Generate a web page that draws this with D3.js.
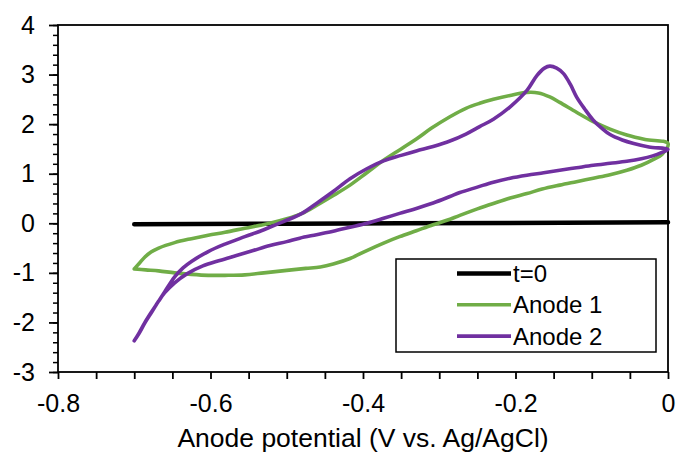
<!DOCTYPE html>
<html>
<head>
<meta charset="utf-8">
<script src="https://cdn.jsdelivr.net/npm/d3@7"></script>
<style>
  body { margin: 0; background: #fff; }
  text { font-family: "Liberation Sans", Arial, sans-serif; fill: #000; }
</style>
</head>
<body>
<div id="chart"></div>
<script>
// potential (V) , current pairs
const baseline = [[-0.70, -0.02], [-0.35, 0.0], [0.0, 0.02]];

const anode1Fwd = [
  [-0.700, -0.92], [-0.693, -0.80], [-0.686, -0.68], [-0.678, -0.58], [-0.668, -0.50],
  [-0.647, -0.39], [-0.625, -0.31], [-0.603, -0.24], [-0.581, -0.18], [-0.555, -0.10],
  [-0.525, -0.01], [-0.500, 0.09], [-0.480, 0.20], [-0.461, 0.36], [-0.440, 0.55],
  [-0.417, 0.77], [-0.395, 1.02], [-0.373, 1.27], [-0.350, 1.50], [-0.330, 1.70],
  [-0.310, 1.92], [-0.286, 2.15], [-0.265, 2.32], [-0.247, 2.42], [-0.229, 2.50],
  [-0.207, 2.58], [-0.185, 2.64], [-0.170, 2.63], [-0.155, 2.55], [-0.142, 2.44],
  [-0.120, 2.24], [-0.098, 2.05], [-0.076, 1.90], [-0.054, 1.78], [-0.030, 1.69],
  [0.000, 1.61]
];
const anode1Rev = [
  [0.000, 1.48], [-0.008, 1.39], [-0.019, 1.29], [-0.035, 1.17], [-0.054, 1.07],
  [-0.076, 0.98], [-0.098, 0.91], [-0.120, 0.84], [-0.142, 0.77], [-0.165, 0.69],
  [-0.185, 0.60], [-0.207, 0.51], [-0.229, 0.40], [-0.250, 0.29], [-0.273, 0.16],
  [-0.290, 0.06], [-0.308, -0.03], [-0.330, -0.15], [-0.352, -0.27], [-0.373, -0.40],
  [-0.395, -0.55], [-0.417, -0.71], [-0.439, -0.82], [-0.456, -0.88], [-0.475, -0.91],
  [-0.500, -0.95], [-0.530, -1.00], [-0.555, -1.04], [-0.581, -1.05], [-0.603, -1.05],
  [-0.625, -1.03], [-0.647, -1.00], [-0.668, -0.96], [-0.685, -0.94], [-0.700, -0.92]
];

const anode2Fwd = [
  [-0.700, -2.37], [-0.694, -2.22], [-0.686, -2.00], [-0.677, -1.78], [-0.668, -1.57],
  [-0.660, -1.38], [-0.647, -1.08], [-0.636, -0.90], [-0.625, -0.77], [-0.603, -0.57],
  [-0.581, -0.42], [-0.555, -0.27], [-0.530, -0.13], [-0.505, 0.03], [-0.480, 0.20],
  [-0.461, 0.40], [-0.440, 0.63], [-0.417, 0.90], [-0.395, 1.10], [-0.373, 1.26],
  [-0.350, 1.37], [-0.330, 1.46], [-0.308, 1.55], [-0.286, 1.66], [-0.265, 1.80],
  [-0.247, 1.95], [-0.229, 2.10], [-0.207, 2.35], [-0.185, 2.68], [-0.172, 2.98],
  [-0.162, 3.13], [-0.155, 3.17], [-0.146, 3.13], [-0.137, 3.02], [-0.128, 2.80],
  [-0.120, 2.55], [-0.109, 2.30], [-0.098, 2.08], [-0.087, 1.92], [-0.076, 1.79],
  [-0.060, 1.68], [-0.045, 1.61], [-0.025, 1.54], [0.000, 1.49]
];
const anode2Rev = [
  [0.000, 1.49], [-0.008, 1.43], [-0.020, 1.36], [-0.035, 1.30], [-0.054, 1.25],
  [-0.076, 1.21], [-0.098, 1.17], [-0.120, 1.12], [-0.142, 1.07], [-0.163, 1.02],
  [-0.185, 0.97], [-0.207, 0.91], [-0.229, 0.83], [-0.250, 0.73], [-0.273, 0.62],
  [-0.286, 0.54], [-0.308, 0.41], [-0.330, 0.30], [-0.352, 0.20], [-0.373, 0.10],
  [-0.395, 0.00], [-0.417, -0.08], [-0.439, -0.16], [-0.461, -0.23], [-0.483, -0.30],
  [-0.500, -0.37], [-0.522, -0.45], [-0.544, -0.55], [-0.566, -0.65], [-0.588, -0.75],
  [-0.610, -0.86], [-0.631, -1.02], [-0.647, -1.20], [-0.660, -1.40], [-0.668, -1.57],
  [-0.677, -1.79], [-0.686, -2.01], [-0.694, -2.23], [-0.700, -2.37]
];

const seriesNames = ['t=0', 'Anode 1', 'Anode 2'];
const seriesColors = ['#000000', '#70ad47', '#7030a0'];

const xTicks = d3.range(-0.8, 0.001, 0.05);
const xLabels = [-0.8, -0.6, -0.4, -0.2, 0];
const yTicks = [-3, -2, -1, 0, 1, 2, 3, 4];
const yMinor = d3.range(-3, 4.001, 0.2);

const width = 677, height = 455;
const margin = {top: 25, right: 9, bottom: 83, left: 58};
const _width = width - margin.left - margin.right;
const _height = height - margin.top - margin.bottom;

const svg = d3.select('#chart').append('svg')
  .attr('width', width)
  .attr('height', height);

const g = svg.append('g')
  .attr('transform', `translate(${margin.left},${margin.top})`);

const xScale = d3.scaleLinear().domain([-0.8, 0]).range([0, _width]);
const yScale = d3.scaleLinear().domain([-3, 4]).range([_height, 0]);

const fmt = d => String(+d.toFixed(1));

// minor y ticks
g.append('g')
  .call(d3.axisLeft(yScale).tickValues(yMinor).tickSize(5).tickFormat(''))
  .call(a => a.select('.domain').remove())
  .selectAll('line').attr('stroke-width', 1.5);

// major y ticks + labels
g.append('g')
  .attr('class', 'yAxis')
  .call(d3.axisLeft(yScale).tickValues(yTicks).tickSize(9).tickPadding(14).tickFormat(fmt))
  .call(a => a.select('.domain').remove())
  .call(a => a.selectAll('line').attr('stroke-width', 1.8))
  .selectAll('text')
  .attr('font-size', 25);

// x ticks
g.append('g')
  .attr('class', 'xAxis')
  .attr('transform', `translate(0,${_height})`)
  .call(d3.axisBottom(xScale).tickValues(xTicks).tickSize(7).tickPadding(15)
    .tickFormat(d => xLabels.some(v => Math.abs(v - d) < 1e-6) ? fmt(d) : ''))
  .call(a => a.select('.domain').remove())
  .call(a => a.selectAll('line').attr('stroke-width', 1.8))
  .selectAll('text')
  .attr('font-size', 25);

// plot frame
g.append('rect')
  .attr('width', _width)
  .attr('height', _height)
  .attr('fill', 'none')
  .attr('stroke', '#000')
  .attr('stroke-width', 1.8);

g.append('text')
  .attr('x', _width / 2)
  .attr('y', 447 - margin.top)
  .attr('text-anchor', 'middle')
  .attr('font-size', 26.5)
  .text('Anode potential (V vs. Ag/AgCl)');

const line = d3.line()
  .x(d => xScale(d[0]))
  .y(d => yScale(d[1]))
  .curve(d3.curveCatmullRom.alpha(0.5));

const loops = [baseline, anode1Fwd.concat(anode1Rev.slice(1)), anode2Fwd.concat(anode2Rev.slice(1))];

g.selectAll('.trace')
  .data(loops)
  .enter()
  .append('path')
  .attr('class', 'trace')
  .attr('d', line)
  .attr('fill', 'none')
  .attr('stroke', (d, i) => seriesColors[i])
  .attr('stroke-width', (d, i) => i === 0 ? 4.5 : 3.6)
  .attr('stroke-linejoin', 'round')
  .attr('stroke-linecap', 'round');

// legend
const legend = svg.append('g').attr('transform', 'translate(396,259)');
legend.append('rect')
  .attr('width', 260)
  .attr('height', 93)
  .attr('fill', '#fff')
  .attr('stroke', '#000')
  .attr('stroke-width', 1.5);

const item = legend.selectAll('.item')
  .data(seriesNames)
  .enter()
  .append('g')
  .attr('class', 'item')
  .attr('transform', (d, i) => `translate(0,${14.5 + i * 31.3})`);

item.append('line')
  .attr('x1', 61).attr('x2', 115)
  .attr('stroke', (d, i) => seriesColors[i])
  .attr('stroke-width', (d, i) => i === 0 ? 4.5 : 3.6);

item.append('text')
  .attr('x', 117)
  .attr('y', 8.5)
  .attr('font-size', 24)
  .text(d => d);
</script>
</body>
</html>
